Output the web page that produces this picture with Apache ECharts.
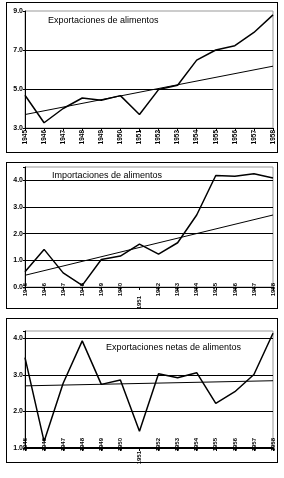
<!DOCTYPE html>
<html>
<head>
<meta charset="utf-8">
<script src="https://cdn.jsdelivr.net/npm/echarts@6/dist/echarts.min.js"></script>
<style>
    body { margin: 0; background: #fff; }
    #wrap { position: relative; width: 284px; height: 478px; }
    .box { position: absolute; left: 6px; width: 270px; border: 1px solid #000; }
    #chart { position: absolute; left: 0; top: 0; width: 284px; height: 478px; }
</style>
</head>
<body>
<div id="wrap">
    <div class="box" style="top:2px;height:149px"></div>
    <div class="box" style="top:162px;height:145px"></div>
    <div class="box" style="top:318px;height:143px"></div>
    <div id="chart"></div>
</div>
<script>
var years = ['1945', '1946', '1947', '1948', '1949', '1950', '1951', '1952', '1953', '1954', '1955', '1956', '1957', '1958'];

var titles = ['Exportaciones de alimentos', 'Importaciones de alimentos', 'Exportaciones netas de alimentos'];

var exportaciones = [4.68, 3.27, 4.0, 4.54, 4.42, 4.66, 3.69, 4.97, 5.19, 6.48, 7.0, 7.22, 7.9, 8.8];
var exportacionesTrend = [3.69, null, null, null, null, null, null, null, null, null, null, null, null, 6.17];

var importaciones = [0.57, 1.41, 0.53, 0.06, 1.03, 1.16, 1.61, 1.23, 1.66, 2.7, 4.18, 4.15, 4.25, 4.09];
var importacionesTrend = [0.44, null, null, null, null, null, null, null, null, null, null, null, null, 2.7];

var netas = [3.47, 1.18, 2.77, 3.93, 2.74, 2.86, 1.46, 3.03, 2.92, 3.06, 2.22, 2.54, 3.01, 4.14];
var netasTrend = [2.7, null, null, null, null, null, null, null, null, null, null, null, null, 2.84];

var font = 'Liberation Sans';

var grids = [
    { left: 25, top: 11, width: 248, height: 117 },
    { left: 25, top: 167, width: 248, height: 120 },
    { left: 25, top: 331, width: 248, height: 117 }
];
grids.forEach(function (g) {
    g.show = true;
    g.borderColor = '#999';
    g.borderWidth = 1;
    g.containLabel = false;
});

function xAxis(idx, size, margin, lowLabel) {
    return {
        type: 'category',
        gridIndex: idx,
        data: years,
        boundaryGap: false,
        axisLine: { lineStyle: { color: '#000', width: idx === 2 ? 2 : 1 } },
        axisTick: { show: true, length: 3, lineStyle: { color: '#000' } },
        axisLabel: {
            interval: 0,
            rotate: 90,
            margin: margin,
            fontSize: size,
            fontWeight: 'bold',
            fontFamily: font,
            color: '#000',
            formatter: function (v, i) {
                return (lowLabel && i === 6) ? '{low|' + v + '}' : v;
            },
            rich: {
                low: { fontSize: size, fontWeight: 'bold', fontFamily: font, color: '#000', padding: [0, 13, 0, 0] }
            }
        }
    };
}

function yAxis(idx, min, max) {
    return {
        type: 'value',
        gridIndex: idx,
        min: min,
        max: max,
        interval: 1 * (idx === 0 ? 2 : 1),
        axisLine: { show: true, lineStyle: { color: '#000' } },
        axisTick: { show: true, length: 2, lineStyle: { color: '#000' } },
        splitLine: { show: true, showMinLine: false, showMaxLine: false, lineStyle: { color: '#000', width: 1 } },
        axisLabel: {
            margin: 2,
            fontSize: 7,
            fontWeight: 'bold',
            fontFamily: font,
            color: '#000',
            formatter: function (v) {
                return Math.abs(v - Math.round(v)) < 1e-6 ? v.toFixed(1) : '';
            }
        }
    };
}

function lineSeries(idx, data, width) {
    return {
        type: 'line',
        xAxisIndex: idx,
        yAxisIndex: idx,
        data: data,
        symbol: 'none',
        connectNulls: true,
        silent: true,
        lineStyle: { color: '#000', width: width }
    };
}

var chart = echarts.init(document.getElementById('chart'), null, { renderer: 'canvas' });
chart.setOption({
    animation: false,
    backgroundColor: 'transparent',
    title: [
        { text: titles[0], left: 48, top: 16 },
        { text: titles[1], left: 52, top: 171 },
        { text: titles[2], left: 106, top: 343 }
    ].map(function (t) {
        t.textStyle = { fontSize: 9, fontWeight: 'normal', fontFamily: font, color: '#000' };
        t.padding = 0;
        return t;
    }),
    grid: grids,
    xAxis: [xAxis(0, 6.5, 2, false), xAxis(1, 6, -4, true), xAxis(2, 6, -10, true)],
    yAxis: [yAxis(0, 3, 9), yAxis(1, 0, 4.5), yAxis(2, 1, 4.2)],
    series: [
        lineSeries(0, exportacionesTrend, 1),
        lineSeries(0, exportaciones, 1.5),
        lineSeries(1, importacionesTrend, 1),
        lineSeries(1, importaciones, 1.5),
        lineSeries(2, netasTrend, 1),
        lineSeries(2, netas, 1.5)
    ]
});
</script>
</body>
</html>
